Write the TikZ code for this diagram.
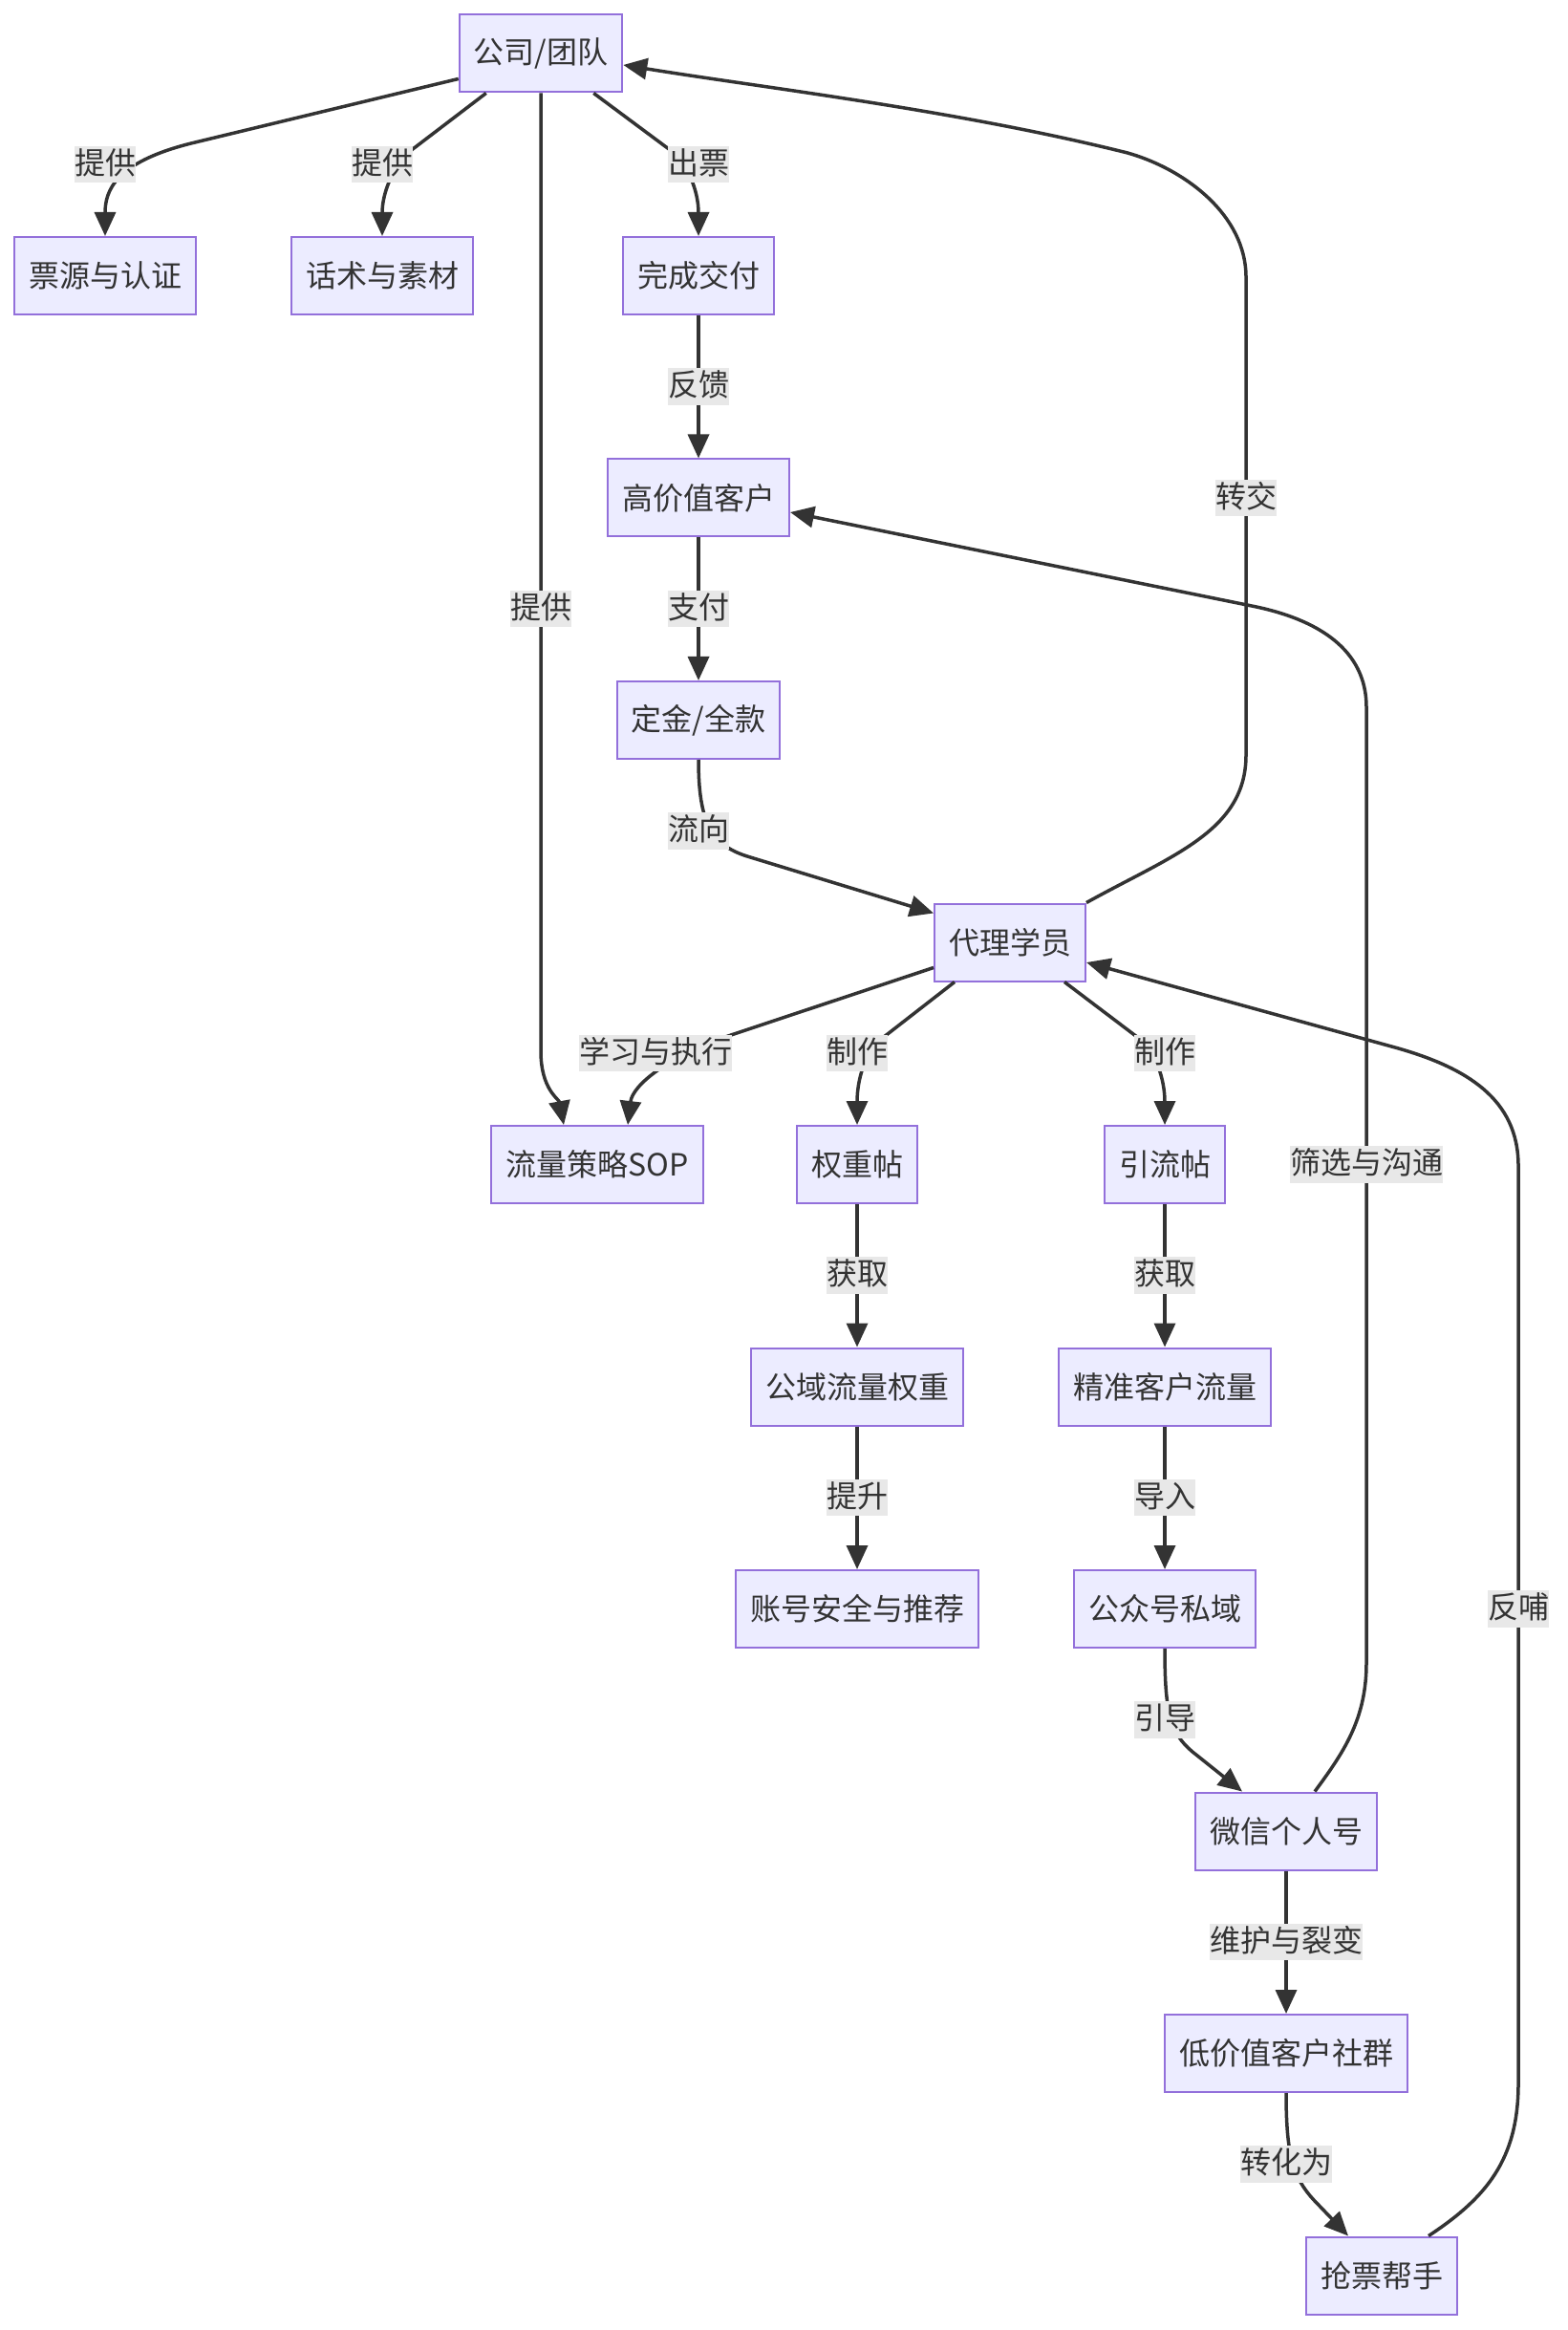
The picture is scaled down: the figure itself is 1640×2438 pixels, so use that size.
\documentclass[tikz,border=0pt]{standalone}
\usepackage{fontspec}
\setmainfont{Noto Sans CJK SC}
\usetikzlibrary{arrows.meta,calc}
\definecolor{nfill}{HTML}{ECECFF}
\definecolor{nline}{HTML}{9370DB}
\definecolor{eline}{HTML}{333333}
\definecolor{lbg}{HTML}{E8E8E8}
\begin{document}
\begin{tikzpicture}[x=0.3pt,y=-0.3pt,
 box/.style={draw=nline,fill=nfill,line width=0.6pt,minimum height=24.3pt,inner xsep=4.5pt,inner ysep=0pt,font=\fontsize{9.6pt}{11pt}\selectfont,text=eline},
 lab/.style={fill=lbg,inner xsep=0pt,inner ysep=0.6pt,text height=8.3pt,text depth=2.1pt,font=\fontsize{9.6pt}{11pt}\selectfont,text=eline},
 e/.style={draw=eline,line width=1.05pt,-{Triangle[length=7.5pt,width=6.6pt]}}]
\fill[white] (0,0) rectangle (1640,2438);
\useasboundingbox (0,0) rectangle (1640,2438);
% nodes
\node[box] (A) at (566,56) {公司/团队};
\node[box] (B) at (110,288.5) {票源与认证};
\node[box] (C) at (400,288.5) {话术与素材};
\node[box] (D) at (731,288.5) {完成交付};
\node[box] (E) at (731,521) {高价值客户};
\node[box] (F) at (731,753.5) {定金/全款};
\node[box] (G) at (1057,986) {代理学员};
\node[box] (H) at (625,1218.5) {流量策略SOP};
\node[box] (I) at (897,1218.5) {权重帖};
\node[box] (J) at (1219,1218.5) {引流帖};
\node[box] (K) at (897,1451) {公域流量权重};
\node[box] (L) at (1219,1451) {精准客户流量};
\node[box] (M) at (897,1683.5) {账号安全与推荐};
\node[box] (N) at (1219,1683.5) {公众号私域};
\node[box] (O) at (1346,1916) {微信个人号};
\node[box] (P) at (1346,2148.5) {低价值客户社群};
\node[box] (Q) at (1446,2381) {抢票帮手};
% edges
\draw[e] ($(A.south west)+(0,-15)$) -- (200,150) .. controls (120,170) and (110,200) .. (B.north);
\draw[e] ($(A.south west)+(29,0)$) -- (432,156) .. controls (413,171) and (400,200) .. (C.north);
\draw[e] ($(A.south east)+(-31,0)$) -- (700,156) .. controls (720,171) and (731,200) .. (D.north);
\draw[e] (A.south) -- (566,1100) .. controls (566,1140) and (585,1150) .. ($(H.north)+(-35,0)$);
\draw[e] (D.south) -- (E.north);
\draw[e] (E.south) -- (F.north);
\draw[e] (F.south) .. controls (731,860) and (744,884) .. (782,896) -- ($(G.north west)+(0,11)$);
\draw[e] (G.north east) .. controls (1226,895) and (1304,870) .. (1304,790) -- (1304,290) .. controls (1304,225) and (1240,177) .. (1180,160) .. controls (1000,115) and (800,92) .. ($(A.east)+(0,12)$);
\draw[e] ($(G.south west)+(0,-15)$) -- (765,1083) .. controls (700,1105) and (662,1135) .. ($(H.north)+(32,0)$);
\draw[e] ($(G.south west)+(22,0)$) -- (925,1085) .. controls (905,1100) and (897,1130) .. (I.north);
\draw[e] ($(G.south east)+(-23,0)$) -- (1190,1085) .. controls (1210,1100) and (1219,1130) .. (J.north);
\draw[e] (I.south) -- (K.north);
\draw[e] (K.south) -- (M.north);
\draw[e] (J.south) -- (L.north);
\draw[e] (L.south) -- (N.north);
\draw[e] (N.south) .. controls (1219,1790) and (1224,1813) .. (1248,1833) -- ($(O.north)+(-46,0)$);
\draw[e] ($(O.north)+(30,0)$) .. controls (1405,1835) and (1430,1800) .. (1430,1740) -- (1430,740) .. controls (1430,680) and (1380,648) .. (1310,634) -- ($(E.east)+(0,15)$);
\draw[e] (O.south) -- (P.north);
\draw[e] (P.south) .. controls (1346,2255) and (1353,2278) .. (1375,2302) -- ($(Q.north)+(-35,0)$);
\draw[e] ($(Q.north)+(49,0)$) .. controls (1555,2300) and (1589,2260) .. (1589,2180) -- (1589,1220) .. controls (1589,1150) and (1535,1117) .. (1460,1096) -- ($(G.east)+(0,21)$);
% labels
\node[lab] (l1) at (110,172) {提供};
\node[lab] (l2) at (400,172) {提供};
\node[lab] (l3) at (731,172) {出票};
\node[lab] (l4) at (731,404.5) {反馈};
\node[lab] (l5) at (731,637) {支付};
\node[lab] (l6) at (566,637) {提供};
\node[lab] (l7) at (1304,521) {转交};
\node[lab] (l8) at (731,869.5) {流向};
\node[lab] (l9) at (686,1102) {学习与执行};
\node[lab] (l10) at (897,1102) {制作};
\node[lab] (l11) at (1219,1102) {制作};
\node[lab] (l12) at (1430,1218.5) {筛选与沟通};
\node[lab] (l13) at (897,1334.5) {获取};
\node[lab] (l14) at (1219,1334.5) {获取};
\node[lab] (l15) at (897,1567) {提升};
\node[lab] (l16) at (1219,1567) {导入};
\node[lab] (l17) at (1589,1683.5) {反哺};
\node[lab] (l18) at (1219,1799.5) {引导};
\node[lab] (l19) at (1346,2032) {维护与裂变};
\node[lab] (l20) at (1346,2264.5) {转化为};
\end{tikzpicture}
\end{document}
